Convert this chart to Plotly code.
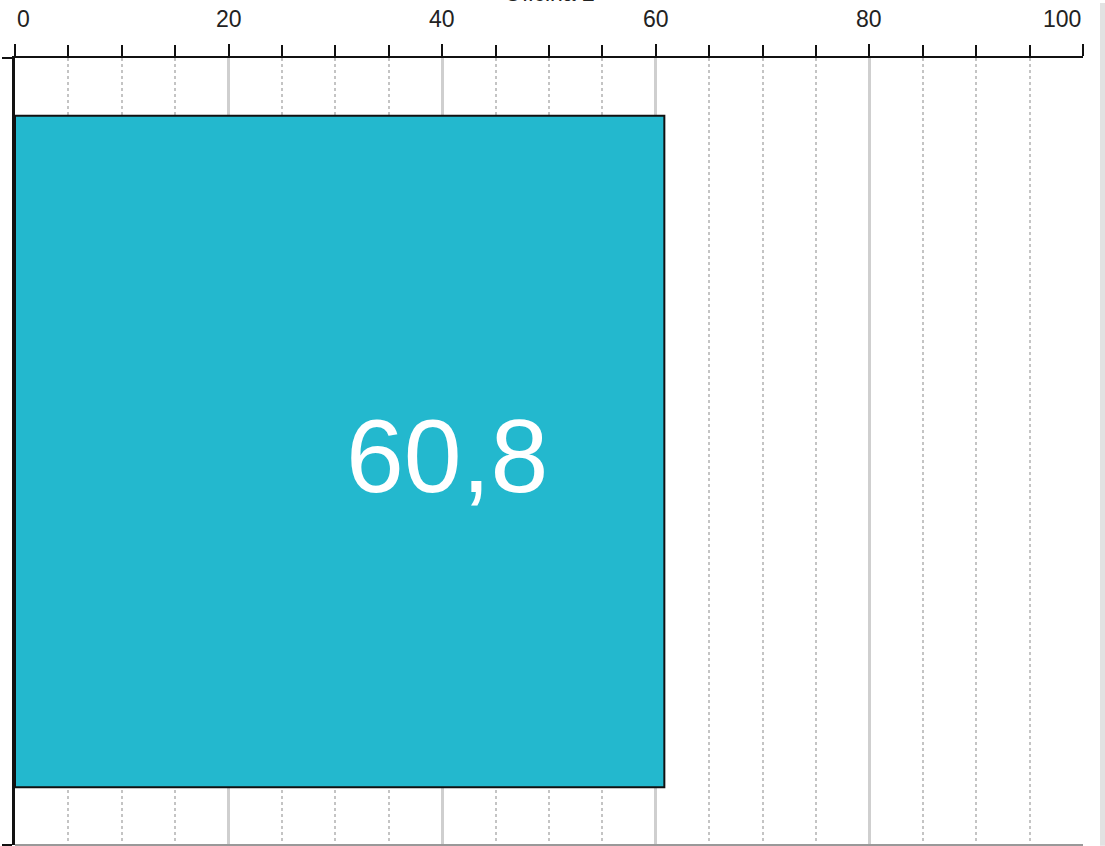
import plotly.graph_objects as go

categories = ["Oficina 2"]
values = [60.8]
value_labels = ["60,8"]
tick_vals = [0, 20, 40, 60, 80, 100]
tick_text = ["0", "20", "40", "60", "80", "100"]
axis_title = "Oficina 2"

BAR_COLOR = "#23B8CE"

fig = go.Figure()
fig.add_trace(go.Bar(
    x=values, y=categories, orientation="h",
    marker=dict(color=BAR_COLOR, line=dict(color="#111111", width=2)),
    hoverinfo="skip",
))

fig.update_layout(
    width=1105, height=846,
    margin=dict(l=15, r=22, t=58, b=1, autoexpand=False),
    paper_bgcolor="white", plot_bgcolor="white",
    bargap=0.147,
    showlegend=False,
    font=dict(family="Liberation Sans, Arial, sans-serif", color="#222222"),
)

fig.update_xaxes(
    side="top", range=[0, 100], automargin=False,
    tickvals=tick_vals, ticktext=tick_text, showticklabels=False,
    ticks="outside", ticklen=12, tickwidth=2, tickcolor="#111111",
    showline=True, linecolor="#111111", linewidth=2,
    showgrid=True, gridcolor="#cfcfcf", gridwidth=3,
    zeroline=False,
    minor=dict(dtick=5, ticks="outside", ticklen=11, tickwidth=2, tickcolor="#111111",
               showgrid=True, gridcolor="#c4c4c4", gridwidth=2, griddash="dot"),
)
fig.update_yaxes(
    range=[-0.5, 0.5], showticklabels=False, automargin=False,
    ticks="outside", tickson="boundaries", ticklen=10, tickwidth=2, tickcolor="#111111",
    showline=True, linecolor="#111111", linewidth=3,
    showgrid=False, zeroline=False,
)

# tick labels (edge labels aligned inward)
for i, (v, t) in enumerate(zip(tick_vals, tick_text)):
    anchor = "left" if i == 0 else ("right" if i == len(tick_vals) - 1 else "center")
    fig.add_annotation(
        x=v, xref="x", y=1, yref="paper", yshift=39, yanchor="middle",
        xanchor=anchor, text=t, showarrow=False,
        font=dict(size=23, color="#222222", family="Liberation Sans, Arial, sans-serif"),
    )

# axis title (mostly cut off at the top edge, as in the reference)
fig.add_annotation(
    x=0.5, xref="paper", y=1, yref="paper", yshift=50, yanchor="bottom",
    text=axis_title, showarrow=False,
    font=dict(size=23, color="#222222", family="Liberation Sans, Arial, sans-serif"),
)

# value label
for c, v, lab in zip(categories, values, value_labels):
    fig.add_annotation(
        x=v, y=c, xref="x", yref="y", xanchor="right", yanchor="middle",
        xshift=-114, yshift=-4, text=lab, showarrow=False,
        font=dict(size=104, color="white", family="Liberation Sans, Arial, sans-serif"),
    )

# bottom edge line and right grey strip
fig.add_shape(type="line", xref="paper", yref="paper", x0=0, x1=1, y0=0, y1=0,
              line=dict(color="#999999", width=2))
fig.add_shape(type="rect", xref="paper", yref="paper", x0=(1100 - 15) / 1068, x1=(1105 - 15) / 1068,
              y0=-0.001, y1=1.07, line=dict(width=0), fillcolor="#e2e2e2", layer="above")

fig.write_html("out.html", config={"displayModeBar": False},
               post_script="document.body.style.margin='0';")
